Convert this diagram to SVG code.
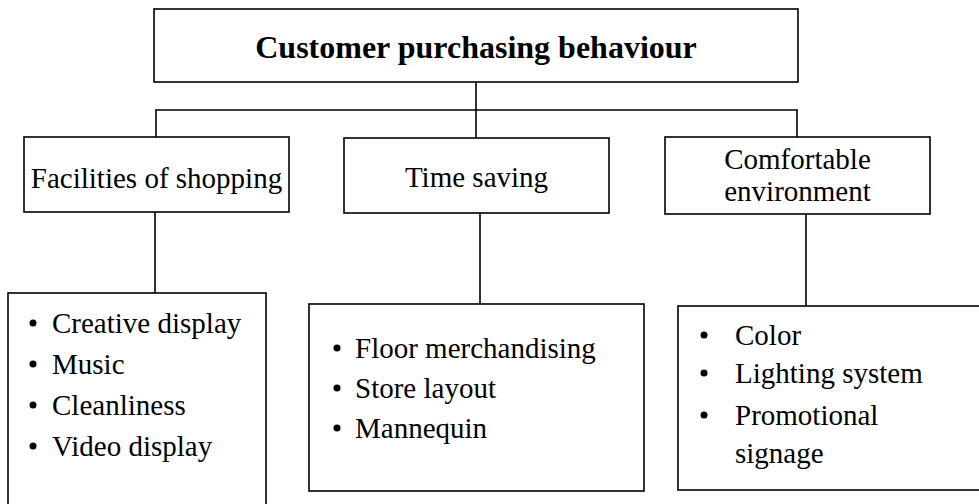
<svg xmlns="http://www.w3.org/2000/svg" width="979" height="504" viewBox="0 0 979 504">
<style>
.box{fill:#fff;stroke:#000;stroke-width:1.6}
.ln{stroke:#000;stroke-width:1.6;fill:none}
.b{fill:#000}
text{font-family:"Liberation Serif","Times New Roman",serif;font-size:29px;fill:#000}
.c{text-anchor:middle}
.t{font-size:32px;font-weight:bold}
</style>
<rect width="979" height="504" fill="#fff"/>
<g id="connectors">
<line class="ln" x1="476" y1="82" x2="476" y2="110"/>
<line class="ln" x1="155" y1="110" x2="798" y2="110"/>
<line class="ln" x1="156" y1="110" x2="156" y2="137"/>
<line class="ln" x1="476" y1="110" x2="476" y2="138"/>
<line class="ln" x1="797" y1="110" x2="797" y2="137"/>
<line class="ln" x1="155" y1="212" x2="155" y2="293"/>
<line class="ln" x1="480" y1="213" x2="480" y2="304"/>
<line class="ln" x1="806" y1="214" x2="806" y2="306"/>
</g>
<g id="title">
<rect class="box" x="154" y="9" width="644" height="73"/>
<text class="c t" x="476" y="58">Customer purchasing behaviour</text>
</g>
<g id="facilities">
<rect class="box" x="24" y="137" width="265" height="75"/>
<text class="c" x="156.5" y="188">Facilities of shopping</text>
</g>
<g id="time-saving">
<rect class="box" x="344" y="138" width="265" height="75"/>
<text class="c" x="476.5" y="187">Time saving</text>
</g>
<g id="comfortable">
<rect class="box" x="665" y="137" width="265" height="77"/>
<text class="c" x="797.5" y="169">Comfortable</text>
<text class="c" x="797.5" y="201">environment</text>
</g>
<g id="facilities-list">
<rect class="box" x="8" y="293" width="258" height="220"/>
<circle class="b" cx="33" cy="323" r="3.5"/><text x="52" y="333">Creative display</text>
<circle class="b" cx="33" cy="364" r="3.5"/><text x="52" y="374">Music</text>
<circle class="b" cx="33" cy="405" r="3.5"/><text x="52" y="415">Cleanliness</text>
<circle class="b" cx="33" cy="446" r="3.5"/><text x="52" y="456">Video display</text>
</g>
<g id="time-list">
<rect class="box" x="309" y="304" width="335" height="187"/>
<circle class="b" cx="337" cy="348" r="3.5"/><text x="355" y="358">Floor merchandising</text>
<circle class="b" cx="337" cy="388" r="3.5"/><text x="355" y="398">Store layout</text>
<circle class="b" cx="337" cy="428" r="3.5"/><text x="355" y="438">Mannequin</text>
</g>
<g id="comfort-list">
<rect class="box" x="678" y="306" width="320" height="184"/>
<circle class="b" cx="704" cy="335" r="3.5"/><text x="735" y="345">Color</text>
<circle class="b" cx="704" cy="373" r="3.5"/><text x="735" y="383">Lighting system</text>
<circle class="b" cx="704" cy="415" r="3.5"/><text x="735" y="425">Promotional</text>
<text x="735" y="463">signage</text>
</g>
</svg>
